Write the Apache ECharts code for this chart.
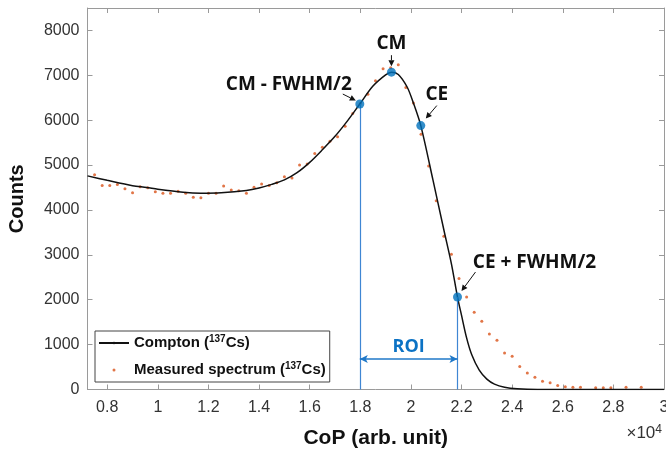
<!DOCTYPE html>
<html>
<head>
<meta charset="utf-8">
<script src="https://cdn.jsdelivr.net/npm/echarts@6/dist/echarts.min.js"></script>
<style>
html, body { margin: 0; padding: 0; background: #fff; }
#main { width: 666px; height: 449px; }
</style>
</head>
<body>
<div id="main"></div>
<script>
// fitted Compton curve
var comptonX = [7220, 8000, 9000, 9560, 10000, 11000, 11700, 12500, 13500, 14000, 14500, 15000, 15500, 16000, 16500, 17000, 17500, 17980,
	18500, 19000, 19230, 19500, 19850, 20100, 20390, 20870, 21300, 21600, 21840, 22000, 22200, 22400, 22700, 23000, 23300, 23700, 24200, 25000, 30000];
var comptonY = [4760, 4660, 4540, 4500, 4460, 4395, 4375, 4385, 4435, 4490, 4570, 4670, 4830, 5060, 5340, 5640, 5990, 6360,
	6760, 7010, 7070, 7020, 6740, 6380, 5880, 4670, 3560, 2800, 2060, 1650, 1150, 780, 430, 230, 120, 50, 15, 0, 0];

// measured spectrum, one point every 300 channels
var measuredX = [7200, 7500, 7800, 8100, 8400, 8700, 9000, 9300, 9600, 9900, 10200, 10500, 10800, 11100, 11400, 11700, 12000, 12300,
	12600, 12900, 13200, 13500, 13800, 14100, 14400, 14700, 15000, 15300, 15600, 15900, 16200, 16500, 16800, 17100, 17400, 17700,
	18000, 18300, 18600, 18900, 19200, 19500, 19800, 20100, 20400, 20700, 21000, 21300, 21600, 21900, 22200, 22500, 22800, 23100,
	23400, 23700, 24000, 24300, 24600, 24900, 25200, 25500, 25800, 26100, 26400, 26700, 27300, 27600, 27900, 28500, 29100];
var measuredY = [4756, 4785, 4548, 4548, 4570, 4474, 4385, 4518, 4496, 4407, 4370, 4370, 4415, 4370, 4281, 4274, 4370, 4370,
	4533, 4444, 4430, 4370, 4504, 4578, 4548, 4607, 4741, 4711, 5000, 5022, 5259, 5400, 5530, 5630, 5867, 6150,
	6370, 6578, 6880, 7148, 7170, 7237, 6726, 6385, 5689, 4978, 4207, 3415, 3015, 2474, 2059, 1719, 1519, 1237,
	1096, 815, 741, 511, 370, 274, 185, 148, 89, 59, 52, 52, 37, 37, 37, 52, 52];

// marked points
var keyNames = ['CM - FWHM/2', 'CM', 'CE', 'CE + FWHM/2'];
var keyX = [17980, 19230, 20390, 21840];
var keyY = [6360, 7070, 5880, 2060];
var roiY = 680;

var xMin = 7220, xMax = 30000;
var yMin = 0, yMax = 8500;

// text offset and arrow (start, end) relative to each marked point, in px
var keyLayout = [
	{ dx: -8, dy: -19, align: 'right', a: [-17, -10, -4, -3.5] },
	{ dx: 0, dy: -29, align: 'center', a: [0, -17, 0, -6] },
	{ dx: 16, dy: -31, align: 'center', a: [16, -20, 5, -7] },
	{ dx: 77, dy: -34, align: 'center', a: [18, -25, 4, -6] }
];

function zip(a, b) {
	return a.map(function(v, i) { return [v, b[i]]; });
}

var tickFont = { fontFamily: 'Liberation Sans', fontSize: 16, color: '#333' };
function boxLine() { return { show: true, onZero: false, lineStyle: { color: '#9a9a9a', width: 1 } }; }
function boxTick() { return { show: true, inside: true, length: 5, lineStyle: { color: '#9a9a9a', width: 1 } }; }

var myChart = echarts.init(document.getElementById('main'));

var option = {
	backgroundColor: '#fff',
	animation: false,
	grid: { left: 87.5, right: 2, top: 8, bottom: 59.5, containLabel: false, outerBoundsMode: 'none' },
	legend: {
		data: ['Compton', 'Measured'],
		orient: 'vertical',
		left: 95,
		top: 331,
		padding: [3, 4, 3, 3],
		itemGap: 9,
		itemWidth: 30,
		itemHeight: 3,
		selectedMode: false,
		borderColor: '#444',
		borderWidth: 1,
		borderRadius: 0,
		backgroundColor: '#fff',
		formatter: function(name) {
			return name == 'Compton' ? 'Compton ({s|137}Cs)' : 'Measured spectrum ({s|137}Cs)';
		},
		textStyle: {
			fontFamily: 'Liberation Sans', fontSize: 15, fontWeight: 'bold', color: '#111', lineHeight: 18,
			rich: {
				s: { fontFamily: 'Liberation Sans', fontSize: 10, fontWeight: 'bold', color: '#111', verticalAlign: 'top', lineHeight: 18 }
			}
		}
	},
	xAxis: [{
		type: 'value', min: xMin, max: xMax, splitNumber: 11,
		name: 'CoP (arb. unit)', nameLocation: 'middle', nameGap: 38,
		nameTextStyle: { fontFamily: 'Liberation Sans', fontSize: 21, fontWeight: 'bold', color: '#111' },
		axisLine: boxLine(), axisTick: boxTick(), splitLine: { show: false },
		axisLabel: Object.assign({ margin: 10, showMinLabel: false, formatter: function(v) {
			return v % 2000 == 0 ? String(+(v / 10000).toFixed(1)) : '';
		} }, tickFont)
	}, {
		type: 'value', min: xMin, max: xMax, splitNumber: 11, position: 'top',
		axisLine: boxLine(), axisTick: boxTick(), splitLine: { show: false }, axisLabel: { show: false }
	}],
	yAxis: [{
		type: 'value', min: yMin, max: yMax, interval: 1000,
		name: 'Counts', nameLocation: 'middle', nameGap: 60, nameRotate: 90,
		nameTextStyle: { fontFamily: 'Liberation Sans', fontSize: 20, fontWeight: 'bold', color: '#111' },
		axisLine: boxLine(), axisTick: boxTick(), splitLine: { show: false },
		axisLabel: Object.assign({ margin: 8, formatter: function(v) {
			return v % 1000 == 0 ? String(v) : '';
		} }, tickFont)
	}, {
		type: 'value', min: yMin, max: yMax, interval: 1000, position: 'right',
		axisLine: boxLine(), axisTick: boxTick(), splitLine: { show: false }, axisLabel: { show: false }
	}],
	series: [
		{
			name: 'Measured',
			type: 'scatter',
			data: zip(measuredX, measuredY),
			symbol: 'circle',
			symbolSize: 3,
			itemStyle: { color: '#D95319' },
			z: 2
		},
		{
			name: 'Compton',
			type: 'line',
			data: zip(comptonX, comptonY),
			symbol: 'none',
			smooth: 0.3,
			lineStyle: { color: '#111', width: 1.5 },
			itemStyle: { color: '#111' },
			z: 3
		},
		{
			name: 'key',
			type: 'scatter',
			data: zip(keyX, keyY),
			symbol: 'circle',
			symbolSize: 9,
			itemStyle: { color: '#0072BD' },
			z: 5,
			markLine: {
				silent: true,
				symbol: 'none',
				animation: false,
				lineStyle: { color: '#3f86d3', width: 1.2, type: 'solid' },
				label: { show: false },
				data: [
					[{ coord: [keyX[0], 0] }, { coord: [keyX[0], keyY[0]] }],
					[{ coord: [keyX[3], 0] }, { coord: [keyX[3], keyY[3]] }],
					[
						{ coord: [keyX[0], roiY], symbol: 'arrow', symbolSize: [6, 8],
							lineStyle: { color: '#1f78c8', width: 1.5 },
							label: { show: true, position: 'middle', formatter: 'ROI', distance: 3,
								fontFamily: 'Open Sans', fontSize: 18, fontWeight: 'bold', color: '#0b72c4' } },
						{ coord: [keyX[3], roiY], symbol: 'arrow', symbolSize: [6, 8] }
					]
				]
			}
		}
	]
};

myChart.setOption(option);

function arrow(x1, y1, x2, y2) {
	var ang = Math.atan2(y2 - y1, x2 - x1), L = 6, W = 3;
	var bx = x2 - L * Math.cos(ang), by = y2 - L * Math.sin(ang);
	var px = -Math.sin(ang) * W, py = Math.cos(ang) * W;
	return [
		{ type: 'line', silent: true, shape: { x1: x1, y1: y1, x2: bx, y2: by }, style: { stroke: '#111', lineWidth: 1 } },
		{ type: 'polygon', silent: true, shape: { points: [[x2, y2], [bx + px, by + py], [bx - px, by - py]] }, style: { fill: '#111' } }
	];
}

var els = [];
for (var i = 0; i < keyNames.length; i++) {
	var p = myChart.convertToPixel({ gridIndex: 0 }, [keyX[i], keyY[i]]);
	var k = keyLayout[i];
	els.push({
		type: 'text', silent: true, z: 10,
		style: {
			text: keyNames[i], x: p[0] + k.dx, y: p[1] + k.dy,
			align: k.align, textAlign: k.align, verticalAlign: 'middle', textVerticalAlign: 'middle',
			font: 'bold 19px "Open Sans"', fill: '#111'
		}
	});
	els = els.concat(arrow(p[0] + k.a[0], p[1] + k.a[1], p[0] + k.a[2], p[1] + k.a[3]));
}

// axis exponent
els.push({
	type: 'text', silent: true, right: 4, bottom: 7,
	style: {
		text: '×10{e|4}',
		font: '17px "Liberation Sans"', fill: '#333',
		rich: { e: { fontSize: 12, fontFamily: 'Liberation Sans', fill: '#333', color: '#333', verticalAlign: 'top', lineHeight: 20 } }
	}
});

myChart.setOption({ graphic: { elements: els } });

window.addEventListener("resize", function() {
	myChart.resize();
});
</script>
</body>
</html>
